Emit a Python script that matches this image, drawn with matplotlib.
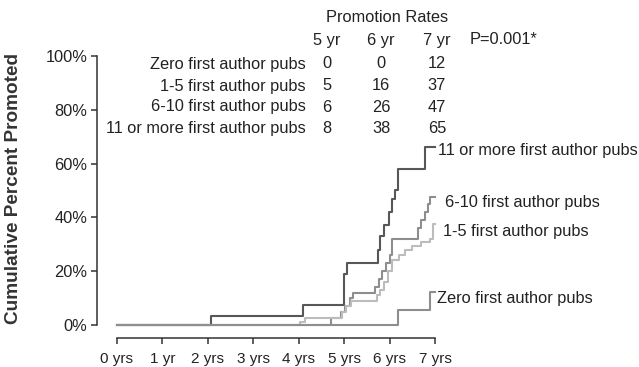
import matplotlib
matplotlib.use('Agg')
import matplotlib.pyplot as plt

plt.rcParams['font.family'] = ['Liberation Sans', 'DejaVu Sans']

# step curves: times (years) and cumulative percent promoted after each step
groups = ['11 or more first author pubs', '6-10 first author pubs',
          '1-5 first author pubs', 'Zero first author pubs']

t_11 = [0, 2.07, 4.1, 5.0, 5.07, 5.75, 5.8, 5.88, 5.98, 6.05, 6.11, 6.18, 6.78, 7.0]
v_11 = [0, 3.3, 7.4, 19, 23, 28, 33, 37, 42, 47, 50, 58, 66, 66]

t_6 = [0, 4.7, 4.92, 5.02, 5.12, 5.2, 5.68, 5.76, 5.84, 5.92, 6.0, 6.06, 6.63, 6.7, 6.77, 6.84, 6.9, 7.0]
v_6 = [0, 2.6, 5, 7, 10, 12, 14, 17, 20, 23, 26, 32, 36, 39, 42, 45, 47.5, 47.5]

t_1 = [0, 4.03, 4.14, 4.95, 5.05, 5.15, 5.72, 5.8, 5.88, 5.96, 6.05, 6.2, 6.35, 6.5, 6.7, 6.9, 6.95, 7.0]
v_1 = [0, 1, 2.6, 5, 7, 9, 11, 13, 16, 20, 24, 26, 28, 29.5, 31, 32, 37.5, 37.5]

t_0 = [0, 6.19, 6.9, 7.0]
v_0 = [0, 5.6, 12.3, 12.3]

times = [t_11, t_6, t_1, t_0]
values = [v_11, v_6, v_1, v_0]
colors = ['#575757', '#8e8e8e', '#bcbcbc', '#8e8e8e']
label_x = [7.07, 7.22, 7.18, 7.04]
label_dy = [-1.0, -1.8, -2.6, -2.3]

# promotion rate table
rate_years = ['5 yr', '6 yr', '7 yr']
rate_rows = ['Zero first author pubs', '1-5 first author pubs',
             '6-10 first author pubs', '11 or more first author pubs']
rates = [[0, 0, 12], [5, 16, 37], [6, 26, 47], [8, 38, 65]]
p_value = 'P=0.001*'

xtick_labels = ['0 yrs', '1 yr', '2 yrs', '3 yrs', '4 yrs', '5 yrs', '6 yrs', '7 yrs']
ytick_vals = [0, 20, 40, 60, 80, 100]

W, H = 639, 367
fig = plt.figure(figsize=(W / 100, H / 100), dpi=100)
ax = fig.add_axes([117 / W, 1 - 325 / H, 318 / W, 269 / H])

tc = '#222222'
fs = 11.8

for t, v, c, name, lx, dy in zip(times, values, colors, groups, label_x, label_dy):
    ax.step(t, v, where='post', color=c, lw=1.5, clip_on=False)
    ax.text(lx, v[-1] + dy, name, fontsize=fs, color=tc, va='center', ha='left',
            clip_on=False)

ax.set_xlim(0, 7)
ax.set_ylim(0, 100)
ax.set_xticks(range(8))
ax.set_xticklabels(xtick_labels)
ax.set_yticks(ytick_vals)
ax.set_yticklabels([f'{y}%' for y in ytick_vals])

for s in ['top', 'right']:
    ax.spines[s].set_visible(False)
# outward offsets are in points (20 px and 13 px at 100 dpi)
ax.spines['left'].set_position(('outward', 14.4))
ax.spines['bottom'].set_position(('outward', 9.4))
ax.spines['left'].set_bounds(0, 100)
ax.spines['bottom'].set_bounds(0, 7)
for s in ['left', 'bottom']:
    ax.spines[s].set_color('#333333')
    ax.spines[s].set_linewidth(1.1)
ax.tick_params(length=4, width=1.1, color='#333333', pad=3, labelcolor=tc)
ax.tick_params(axis='y', labelsize=fs)
ax.tick_params(axis='x', labelsize=11, pad=6)


def fx(px):
    return px / W


def fy(py):
    return 1 - py / H


fig.text(fx(14), fy(189), 'Cumulative Percent Promoted', fontsize=13.7, fontweight='bold',
         rotation=90, ha='center', va='center', color='#333333')

fig.text(fx(387), fy(17), 'Promotion Rates', fontsize=fs, ha='center', va='center', color=tc)
col_x = [327, 381, 437]
for x, yr in zip(col_x, rate_years):
    fig.text(fx(x), fy(40), yr, fontsize=fs, ha='center', va='center', color=tc)
fig.text(fx(470), fy(40), p_value, fontsize=fs, ha='left', va='center', color=tc)
row_y = [64, 86, 107, 128]
for y, name, row in zip(row_y, rate_rows, rates):
    fig.text(fx(306), fy(y), name, fontsize=fs, ha='right', va='center', color=tc)
    for x, val in zip(col_x, row):
        fig.text(fx(x), fy(y), str(val), fontsize=fs, ha='center', va='center', color=tc)

fig.savefig('out.png', dpi=100)
